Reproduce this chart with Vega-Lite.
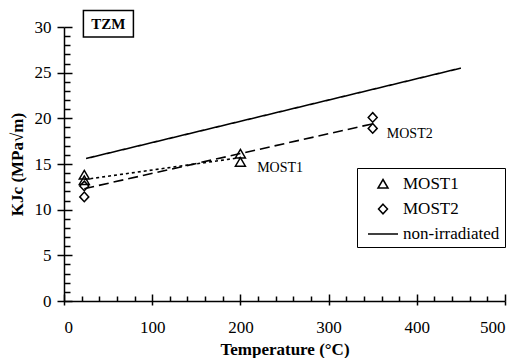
{
  "$schema": "https://vega.github.io/schema/vega-lite/v6.json",
  "width": 441,
  "height": 274,
  "autosize": "none",
  "padding": {"left": 64, "top": 27, "right": 15, "bottom": 57},
  "background": "white",
  "config": {
    "view": {"stroke": null},
    "font": "Liberation Serif",
    "axis": {"domainColor": "black", "tickColor": "black", "labelColor": "black", "titleColor": "black", "grid": false,
      "domainWidth": 1.5, "tickWidth": 1.5, "labelFont": "Liberation Serif", "titleFont": "Liberation Serif"},
    "legend": {"labelFont": "Liberation Serif"},
    "text": {"font": "Liberation Serif"}
  },
  "datasets": {
    "points": [
      {"T": 23, "K": 13.8, "series": "MOST1"},
      {"T": 23, "K": 13.2, "series": "MOST1"},
      {"T": 200, "K": 16.1, "series": "MOST1"},
      {"T": 200, "K": 15.2, "series": "MOST1"},
      {"T": 23, "K": 12.6, "series": "MOST2"},
      {"T": 23, "K": 11.4, "series": "MOST2"},
      {"T": 350, "K": 20.1, "series": "MOST2"},
      {"T": 350, "K": 18.9, "series": "MOST2"}
    ],
    "lines": [
      {"T": 25, "K": 15.6, "fit": "non-irradiated"},
      {"T": 450, "K": 25.5, "fit": "non-irradiated"},
      {"T": 23, "K": 13.3, "fit": "MOST1"},
      {"T": 200, "K": 15.7, "fit": "MOST1"},
      {"T": 23, "K": 12.3, "fit": "MOST2"},
      {"T": 350, "K": 19.4, "fit": "MOST2"}
    ],
    "labels": [
      {"T": 219, "K": 14.6, "text": "MOST1"},
      {"T": 366, "K": 18.3, "text": "MOST2"}
    ],
    "tag": [
      {"T": 22, "T2": 78.7, "K": 31.8, "K2": 28.9, "Tm": 50.3, "Km": 30.35, "text": "TZM"}
    ]
  },
  "resolve": {"axis": {"x": "independent", "y": "independent"}},
  "layer": [
    {
      "data": {"name": "lines"},
      "mark": {"type": "line", "color": "black", "strokeWidth": 1.6, "clip": false},
      "encoding": {
        "x": {"field": "T", "type": "quantitative", "scale": {"domain": [0, 500], "nice": false},
          "axis": {"orient": "bottom", "values": [0, 100, 200, 300, 400, 500], "tickSize": 4, "labelFont": "Liberation Serif", "labelFontSize": 17, "labelPadding": 14,
            "title": "Temperature (°C)", "titleFontSize": 17, "titleFontWeight": "bold", "titlePadding": 6}},
        "y": {"field": "K", "type": "quantitative", "scale": {"domain": [0, 30], "nice": false},
          "axis": {"orient": "left", "values": [0, 5, 10, 15, 20, 25, 30], "tickSize": 7, "labelFont": "Liberation Serif", "labelFontSize": 17, "labelPadding": 6,
            "title": "KJc (MPa√m)", "titleFontSize": 17, "titleFontWeight": "bold", "titlePadding": 8}},
        "detail": {"field": "fit"},
        "strokeDash": {"field": "fit", "type": "nominal", "legend": null,
          "scale": {"domain": ["non-irradiated", "MOST1", "MOST2"], "range": [[1, 0], [3, 3], [10, 5]]}}
      }
    },
    {
      "data": {"name": "points"},
      "mark": {"type": "point", "filled": false, "color": "black", "strokeWidth": 1.5, "size": 400, "opacity": 1},
      "encoding": {
        "x": {"field": "T", "type": "quantitative",
          "axis": {"orient": "bottom", "values": [0, 100, 200, 300, 400, 500], "offset": -7, "tickSize": 7, "labels": false, "domain": false, "title": null}},
        "y": {"field": "K", "type": "quantitative",
          "axis": {"orient": "left", "values": [0, 5, 10, 15, 20, 25, 30], "offset": -8, "tickSize": 8, "labels": false, "domain": false, "title": null}},
        "shape": {"field": "series", "type": "nominal",
          "scale": {"domain": ["MOST1", "MOST2", "non-irradiated"],
            "range": ["M0,-0.45L0.5,0.4L-0.5,0.4Z", "M0,-0.48L0.45,0L0,0.48L-0.45,0Z", "M-1.5,0L1.5,0"]},
          "legend": {"orient": "none", "legendX": 293, "legendY": 141, "title": null,
            "strokeColor": "black", "padding": 5, "labelFontSize": 17, "labelFont": "Liberation Serif",
            "labelColor": "black", "symbolSize": 400, "symbolStrokeColor": "black", "symbolStrokeWidth": 1.5,
            "symbolFillColor": "transparent", "symbolOffset": 10, "rowPadding": 6, "labelOffset": 9}}
      }
    },
    {
      "data": {"name": "labels"},
      "mark": {"type": "text", "align": "left", "baseline": "middle", "fontSize": 14, "color": "black"},
      "encoding": {
        "x": {"field": "T", "type": "quantitative",
          "axis": {"orient": "bottom", "values": [20, 40, 60, 80, 120, 140, 160, 180, 220, 240, 260, 280, 320, 340, 360, 380, 420, 440, 460, 480], "offset": -5, "tickSize": 5, "labels": false, "domain": false, "title": null}},
        "y": {"field": "K", "type": "quantitative",
          "axis": {"orient": "left", "values": [1, 2, 3, 4, 6, 7, 8, 9, 11, 12, 13, 14, 16, 17, 18, 19, 21, 22, 23, 24, 26, 27, 28, 29], "offset": -6, "tickSize": 6, "labels": false, "domain": false, "title": null}},
        "text": {"field": "text"}
      }
    },
    {
      "data": {"name": "tag"},
      "mark": {"type": "rect", "fill": "white", "stroke": "black", "strokeWidth": 1.5, "clip": false},
      "encoding": {
        "x": {"field": "T", "type": "quantitative", "axis": null},
        "x2": {"field": "T2"},
        "y": {"field": "K", "type": "quantitative", "axis": null},
        "y2": {"field": "K2"}
      }
    },
    {
      "data": {"name": "tag"},
      "mark": {"type": "text", "fontSize": 15, "fontWeight": "bold", "color": "black", "baseline": "middle", "align": "center", "clip": false},
      "encoding": {
        "x": {"field": "Tm", "type": "quantitative", "axis": null},
        "y": {"field": "Km", "type": "quantitative", "axis": null},
        "text": {"field": "text"}
      }
    }
  ]
}
